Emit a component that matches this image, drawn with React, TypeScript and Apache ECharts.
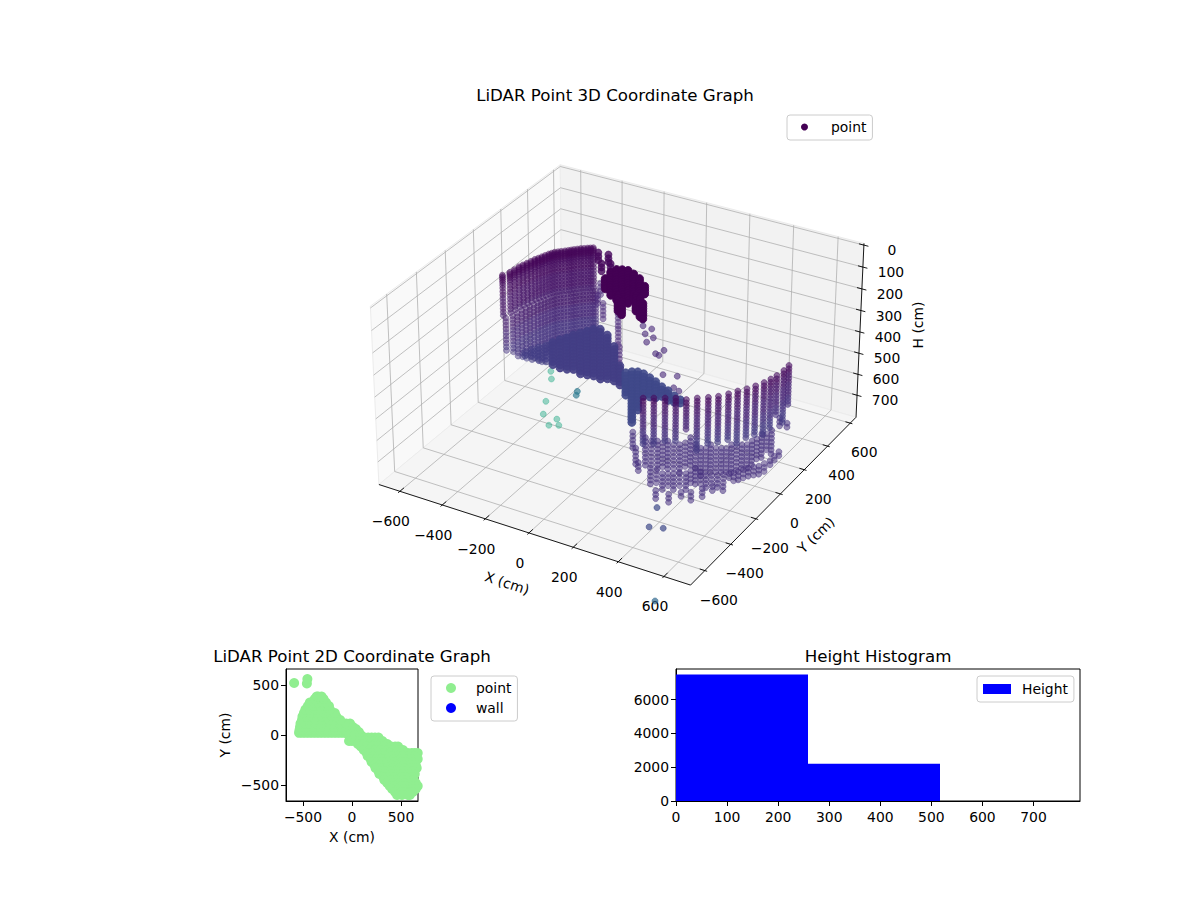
import React, { useEffect, useRef } from "react";
import * as echarts from "echarts";

// ---------- chart text ----------
const FONT = "DejaVu Sans";
const xTicks3D = [-600, -400, -200, 0, 200, 400, 600];
const yTicks3D = [-600, -400, -200, 0, 200, 400, 600];
const hTicks3D = [0, 100, 200, 300, 400, 500, 600, 700];
const xLim = [-700, 715];
const yLim = [-708, 652];
const hLim = [-8, 806];

// ---------- 3D scan data, cm: stacks are [x, y, top height, bottom height] ----------
const wallRingsUpper = [0, 7, 15, 24, 34, 46, 60, 76, 92, 108, 124, 140, 156, 172, 188];
const wallRingsLower = [0, 17, 34, 51, 68, 85, 102, 119, 136, 153, 170, 187, 204, 221, 238, 255, 272, 289, 306];
const rightRings = [0, 15, 30, 45, 60, 75, 90, 105, 120, 135, 150, 165, 180, 195, 210, 225, 240];
const fanRings = [0, 15, 30, 45, 60, 75, 90, 105, 120, 135, 150, 165, 180, 195, 210, 225, 240, 255];
const strandRings = [0, 18, 36, 54, 72, 90, 108, 126];
const blobRings = [0, 12, 24, 36, 48, 60, 72, 84, 96, 108, 120, 132, 144, 156, 168];

const wallUpper = [
  [-606, 60, 206, 400], [-589, 88, 202, 400], [-585, 116, 202, 400], [-582, 145, 202, 400],
  [-576, 166, 202, 400], [-570, 187, 202, 400], [-564, 208, 202, 400], [-559, 229, 202, 400],
  [-552, 245, 202, 400], [-546, 262, 202, 400], [-540, 278, 202, 400], [-534, 295, 202, 400],
  [-527, 307, 202, 400], [-521, 320, 202, 400], [-511, 330, 202, 400], [-501, 339, 202, 400],
  [-490, 350, 202, 400], [-480, 360, 202, 400], [-472, 369, 202, 400], [-464, 378, 202, 400],
  [-454, 388, 202, 400], [-444, 398, 202, 400], [-433, 406, 202, 400], [-422, 415, 202, 400],
  [-412, 422, 202, 400], [-403, 429, 202, 400],
];
const wallLower = [
  [-597, 64, 406, 575], [-582, 92, 406, 589], [-578, 120, 406, 610], [-575, 149, 406, 631],
  [-569, 170, 406, 645], [-563, 191, 406, 659], [-557, 212, 406, 673], [-552, 233, 406, 687],
  [-545, 249, 406, 698], [-539, 266, 406, 710], [-533, 282, 406, 672], [-527, 299, 406, 635],
  [-520, 311, 406, 632], [-514, 324, 406, 629], [-504, 334, 406, 625], [-494, 343, 406, 621],
  [-483, 354, 406, 619], [-473, 364, 406, 617], [-465, 373, 406, 614], [-457, 382, 406, 612],
  [-447, 392, 406, 609], [-437, 402, 406, 607], [-426, 410, 406, 602], [-415, 419, 406, 598],
  [-405, 426, 406, 595], [-396, 433, 406, 593],
];
const fanFaintStacks = [
  [-479, 21, 512, 540], [-467, 54, 512, 563], [-451, 80, 512, 582], [-434, 107, 512, 601],
];
const fanStacks = [
  [-423, 141, 512, 624], [-410, 175, 512, 647], [-393, 201, 512, 666], [-382, 234, 512, 689],
  [-365, 260, 512, 708], [-349, 287, 512, 726], [-334, 314, 512, 745], [-310, 328, 512, 754],
  [-260, 301, 512, 736], [-188, 236, 512, 689], [-88, 115, 512, 605],
];
const midFanStacks = [
  [-39, 80, 512, 619], [-22, 99, 512, 764], [-1, 110, 512, 698], [27, 108, 512, 628],
  [64, 94, 512, 612], [100, 79, 512, 589], [141, 57, 512, 568], [178, 43, 512, 559],
  [219, 21, 512, 545], [255, 7, 512, 535],
];
const rightWall = [
  [244, -263, 362, 580], [280, -243, 362, 580], [318, -222, 362, 564], [354, -202, 362, 564],
  [395, -192, 362, 509], [426, -162, 362, 610], [461, -137, 362, 582], [491, -111, 362, 572],
  [516, -76, 362, 582], [537, -41, 362, 610], [560, -9, 362, 590], [579, 26, 362, 595],
  [596, 64, 362, 610], [606, 100, 362, 587], [614, 134, 362, 548], [620, 181, 362, 610],
  [619, 225, 362, 556],
];
const floorStrands = [
  [214, -290, 512, 600], [283, -384, 512, 600], [344, -467, 512, 559],
  [309, -355, 472, 600], [404, -478, 512, 600], [500, -602, 512, 559],
  [362, -354, 472, 600], [463, -489, 512, 600], [555, -600, 512, 551],
  [397, -335, 472, 600], [500, -469, 512, 600], [589, -566, 512, 543],
  [449, -335, 472, 600], [541, -446, 512, 600], [621, -548, 512, 551],
  [460, -270, 472, 600], [553, -395, 512, 600], [646, -506, 512, 559],
  [532, -318, 472, 600], [614, -421, 512, 570], [672, -475, 512, 535],
  [553, -278, 472, 600], [651, -399, 512, 570], [707, -456, 512, 535],
  [601, -280, 472, 590], [684, -367, 512, 543],
  [622, -239, 472, 600], [708, -339, 512, 559],
  [657, -220, 472, 590], [729, -298, 512, 559],
  [678, -178, 472, 590], [757, -267, 512, 559],
  [686, -115, 472, 590], [776, -212, 512, 543],
  [707, -74, 472, 580], [775, -140, 512, 535],
  [662, 77, 512, 559], [705, 57, 512, 535],
];
const floorStrandsBetween = [
  [335, -355, 480, 600], [380, -345, 480, 600], [423, -335, 480, 600], [455, -302, 480, 600],
  [496, -294, 480, 600], [543, -298, 480, 600], [577, -279, 480, 600], [612, -260, 480, 590],
  [640, -230, 480, 590], [668, -199, 480, 590], [682, -146, 480, 580], [697, -95, 480, 560],
  [433, -483, 512, 575], [482, -479, 512, 575], [520, -458, 512, 570], [547, -420, 512, 570],
  [584, -408, 512, 570], [632, -410, 512, 555], [668, -383, 512, 555], [696, -353, 512, 550],
  [718, -318, 512, 555], [743, -282, 512, 555], [766, -240, 512, 550], [775, -176, 512, 540],
];
const darkBlob = [
  [-328, 398, 312, 366], [-335, 453, 312, 421], [-327, 486, 312, 460], [-306, 497, 312, 475],
  [-282, 503, 312, 470], [-246, 488, 312, 436], [-205, 466, 312, 397], [-154, 421, 312, 351],
  [-209, 302, 312, 390], [-170, 265, 312, 374], [-145, 337, 312, 390], [-118, 323, 312, 397],
  [-88, 295, 312, 390],
];
const darkStrands = [
  [-469, 575, 312, 362], [-408, 500, 312, 351], [-423, 580, 312, 359], [-375, 518, 312, 351],
];
const lightStrands = [
  [-325, 356, 312, 374], [-281, 262, 312, 351], [-229, 218, 312, 390],
  [-162, 225, 312, 410], [-69, 71, 312, 397], [8, -48, 312, 410],
];
const scatteredPoints = [
  [4, 141, 312], [47, 136, 312], [44, 90, 312], [88, 79, 312], [82, 37, 312], [158, -23, 312],
  [174, 15, 312], [176, -28, 312], [264, -147, 312], [318, -130, 312], [333, -244, 312],
  [349, -211, 312], [379, -223, 312],
];
const tealPoints = [
  [-487, 225, 712], [-452, 174, 712], [-378, 14, 712], [-334, -75, 712],
  [-266, -81, 712], [-269, -136, 712], [-234, -117, 712],
];
const deepTealPoints = [[-307, 142, 712], [-295, 114, 712]];
const lowPoints = [[438, -485, 677], [481, -617, 674], [535, -604, 670]];
const lowestPoints = [[729, -995, 695]];

// ---------- colour bins: [height limit, colour] ----------
const wallBins: [number, string][] = [
  [240, "#46075a"], [300, "#470f62"], [380, "#481769"], [460, "#48206f"],
  [540, "#472a7a"], [620, "#463480"], [999, "#433d84"],
];
const rightBins: [number, string][] = [
  [400, "#470e61"], [450, "#481a6c"], [500, "#482576"], [550, "#46307e"], [999, "#443a83"],
];

// ---------- 2D footprint: rows of [y, x, x, ...], cm ----------
const footprintRows = [
  [22, -540, -505, -470, -435, -400, -365, -330, -295, -260, -225, -190, -155, -120, -85, -60],
  [50, -535, -495, -455, -415, -375, -335, -295, -255, -215, -175, -135, -95, -70],
  [80, -530, -460, -390, -320, -250, -180, -110, -40],
  [115, -525, -475, -425, -375, -325, -275, -225, -175, -125, -60, -20],
  [150, -510, -440, -370, -300, -230, -160, -120],
  [185, -505, -455, -405, -355, -305, -255, -205, -160],
  [220, -490, -420, -350, -280, -210, -175],
  [255, -475, -425, -375, -325, -275, -225],
  [290, -450, -390, -320, -260, -235],
  [325, -430, -385, -340, -295, -265],
  [360, -380, -320, -290],
  [385, -360, -345, -310],
  [80, 10], [60, 40], [30, 70], [0, -30, 30, 90], [-60, -30, 0, 40],
  [-25, 100, 130, 165, 200, 235, 270],
  [-60, 80, 130, 180, 230, 280, 310],
  [-90, 60, 120, 180, 240, 300, 360],
  [-115, 90, 150, 210, 270, 330, 400, 440, 470],
  [-150, 120, 180, 240, 300, 360, 420, 480, 520],
  [-180, 150, 210, 270, 330, 390, 450, 510, 570, 610, 640, 670],
  [-210, 160, 220, 280, 340, 400, 460, 520, 580, 640, 690],
  [-240, 190, 250, 310, 370, 430, 490, 550, 610, 670],
  [-270, 200, 260, 320, 380, 440, 500, 560, 620, 680],
  [-300, 230, 290, 350, 410, 470, 530, 590, 650],
  [-330, 240, 300, 360, 420, 480, 540, 600, 660],
  [-360, 270, 330, 390, 450, 510, 570, 630, 690],
  [-390, 280, 340, 400, 460, 520, 580, 640, 700],
  [-420, 320, 380, 440, 500, 560, 620, 680],
  [-450, 330, 390, 450, 510, 570, 630, 690],
  [-480, 360, 420, 480, 540, 600, 650, 680],
  [-510, 385, 440, 500, 560, 620, 640, 670],
  [-540, 410, 470, 530, 590, 620, 650],
  [-570, 440, 500, 560, 600, 620],
  [-600, 460, 510, 570, 590],
  [520, -590], [515, -460], [560, -455],
];

// ---------- histogram ----------
const histEdges = [0, 258, 516, 774];
const histCounts = [7480, 2210, 0];

// ---------- 3D projection (perspective camera, elevation 30, azimuth -60) ----------
const BOX_A = 0.595, BOX_B = 0.595, BOX_C = 0.34, CAM = 10;
const SCALE_X = 2984, SCALE_Y = 2990, CENTER_X = 621.9, CENTER_Y = 363.7;
function project(x: number, y: number, h: number): [number, number] {
  const px = ((x - (xLim[0] + xLim[1]) / 2) / ((xLim[1] - xLim[0]) / 2)) * BOX_A;
  const py = ((y - (yLim[0] + yLim[1]) / 2) / ((yLim[1] - yLim[0]) / 2)) * BOX_B;
  const pz = (((hLim[0] + hLim[1]) / 2 - h) / ((hLim[1] - hLim[0]) / 2)) * BOX_C;
  const xv = 0.866 * px + 0.5 * py;
  const yv = -0.25 * px + 0.433 * py + 0.866 * pz;
  const zv = 0.433 * px - 0.75 * py + 0.5 * pz;
  const d = CAM - zv;
  return [CENTER_X + (xv / d) * SCALE_X, CENTER_Y - (yv / d) * SCALE_Y];
}

function rgba(hex: string, a: number) {
  const n = parseInt(hex.slice(1), 16);
  return `rgba(${n >> 16},${(n >> 8) & 255},${n & 255},${a})`;
}
function binColor(bins: [number, string][], h: number) {
  for (const b of bins) if (h <= b[0]) return b[1];
  return bins[bins.length - 1][1];
}
function fromStacks(stacks: number[][], rings: number[]) {
  const out: number[][] = [];
  for (const s of stacks) {
    for (const r of rings) {
      if (s[2] + r <= s[3]) out.push([s[0], s[1], s[2] + r]);
    }
  }
  return out;
}
function series3D(pts: number[][], color: string | [number, string][], alpha: number, size: number) {
  return {
    type: "scatter",
    name: "point",
    xAxisIndex: 0,
    yAxisIndex: 0,
    symbolSize: size,
    clip: false,
    progressive: 0,
    silent: true,
    data: pts.map((p) => {
      const c = typeof color === "string" ? color : binColor(color, p[2]);
      return {
        value: project(p[0], p[1], p[2]),
        itemStyle: { opacity: 1, color: rgba(c, alpha), borderColor: rgba(c, alpha), borderWidth: 0.8 },
      };
    }),
  };
}

function poly(points: number[][], stroke: string, width: number, z = 0) {
  return { type: "polyline", silent: true, z, shape: { points }, style: { stroke, lineWidth: width, fill: "none" } };
}
function txt(text: string, x: number, y: number, rotation = 0) {
  return {
    type: "text", silent: true, x, y, rotation, z: 1,
    style: { text, fill: "#000", fontSize: 13.9, fontFamily: FONT, textAlign: "center", textVerticalAlign: "middle" },
  };
}
const minus = (v: number) => String(v).replace("-", "\u2212");

function frameGraphics() {
  const [x0, x1] = xLim, [y0, y1] = yLim, [h0, h1] = hLim;
  const P = project;
  const pane = (pts: number[][], fill: string) => ({
    type: "polygon", silent: true, z: 0, shape: { points: pts },
    style: { fill, stroke: "#ececec", lineWidth: 1 },
  });
  const g: any[] = [
    pane([P(x0, y0, h1), P(x0, y1, h1), P(x0, y1, h0), P(x0, y0, h0)], "#f9f9f9"),
    pane([P(x0, y1, h1), P(x1, y1, h1), P(x1, y1, h0), P(x0, y1, h0)], "#f2f2f2"),
    pane([P(x0, y0, h1), P(x1, y0, h1), P(x1, y1, h1), P(x0, y1, h1)], "#f5f5f5"),
  ];
  const GRID = "#b0b0b0";
  for (const t of xTicks3D) g.push(poly([P(t, y0, h1), P(t, y1, h1), P(t, y1, h0)], GRID, 0.8, 1));
  for (const t of yTicks3D) g.push(poly([P(x1, t, h1), P(x0, t, h1), P(x0, t, h0)], GRID, 0.8, 1));
  for (const t of hTicks3D) g.push(poly([P(x0, y0, t), P(x0, y1, t), P(x1, y1, t)], GRID, 0.8, 1));
  g.push(poly([P(x0, y0, h1), P(x1, y0, h1), P(x1, y1, h1), P(x1, y1, h0)], "#000", 0.9, 1));
  for (const t of xTicks3D) {
    g.push(poly([P(t, y0 - 12, h1), P(t, y0 + 28, h1)], "#000", 0.9, 1));
    const a = P(t, y0, h1);
    g.push(txt(minus(t), a[0] - 9, a[1] + 30));
  }
  for (const t of yTicks3D) {
    g.push(poly([P(x1 - 22, t, h1), P(x1 + 10, t, h1)], "#000", 0.9, 1));
    const a = P(x1, t, h1);
    g.push(txt(minus(t), a[0] + 14, a[1] + 29));
  }
  for (const t of hTicks3D) {
    g.push(poly([P(x1 - 22, y1, t), P(x1 + 20, y1, t)], "#000", 0.9, 1));
    const a = P(x1, y1, t);
    g.push(txt(minus(t), a[0] + 28, a[1] + 5));
  }
  g.push(txt("X (cm)", 507, 583, (-18 * Math.PI) / 180));
  g.push(txt("Y (cm)", 816, 535, (44 * Math.PI) / 180));
  g.push(txt("H (cm)", 918, 325, Math.PI / 2));
  return g;
}

const footprintPoints: number[][] = [];
for (const row of footprintRows) for (const x of row.slice(1)) footprintPoints.push([x, row[0]]);

const tickText = { color: "#000", fontSize: 13.9, fontFamily: FONT };
const axisBase = {
  axisLine: { show: true, onZero: false, lineStyle: { color: "#000", width: 1 } },
  splitLine: { show: false },
  nameLocation: "middle",
  nameTextStyle: tickText,
};
function valueAxis(gridIndex: number, min: number, max: number, ticks: number[], name: string, nameGap: number, margin: number) {
  return {
    ...axisBase,
    type: "value", gridIndex, min, max, name, nameGap,
    axisTick: { show: true, inside: false, length: 5, lineStyle: { color: "#000", width: 1 }, customValues: ticks },
    axisLabel: { ...tickText, margin, customValues: ticks, formatter: (v: number) => minus(v) },
  };
}

const legendBox = {
  orient: "vertical",
  backgroundColor: "rgba(255,255,255,0.8)",
  borderColor: "#cccccc",
  borderWidth: 1,
  borderRadius: 3,
  selectedMode: false,
};
const titleText = { fontSize: 16.67, fontWeight: "normal", color: "#000", fontFamily: FONT };

export default function App() {
  const ref = useRef<HTMLDivElement>(null);
  useEffect(() => {
    document.body.style.margin = "0";
    const chart = echarts.init(ref.current!, undefined, { renderer: "svg" });
    chart.setOption({
      animation: false,
      backgroundColor: "#ffffff",
      textStyle: { fontFamily: FONT },
      title: [
        { text: "LiDAR Point 3D Coordinate Graph", left: 610, top: 82, textAlign: "center", textStyle: titleText },
        { text: "LiDAR Point 2D Coordinate Graph", left: 347, top: 643, textAlign: "center", textStyle: titleText },
        { text: "Height Histogram", left: 873, top: 643, textAlign: "center", textStyle: titleText },
      ],
      grid: [
        { left: 0, top: 0, width: 1200, height: 900, show: false },
        { left: 286, top: 669, width: 132, height: 132, show: true, borderColor: "#000", borderWidth: 1, backgroundColor: "transparent" },
        { left: 676, top: 669, width: 404, height: 132, show: true, borderColor: "#000", borderWidth: 1, backgroundColor: "transparent" },
      ],
      xAxis: [
        { type: "value", gridIndex: 0, min: 0, max: 1200, show: false },
        valueAxis(1, -673, 673, [-500, 0, 500], "X (cm)", 29, 9),
        valueAxis(2, 0, 791, [0, 100, 200, 300, 400, 500, 600, 700], "", 0, 9),
      ],
      yAxis: [
        { type: "value", gridIndex: 0, min: 0, max: 900, inverse: true, show: false },
        valueAxis(1, -660, 660, [-500, 0, 500], "Y (cm)", 54, 7),
        valueAxis(2, 0, 7810, [0, 2000, 4000, 6000], "", 0, 7),
      ],
      legend: [
        { ...legendBox, left: 787, top: 115, padding: [5, 6, 6, 14], itemWidth: 7, itemHeight: 7,
          data: [{ name: "point", icon: "circle", itemStyle: { color: "#440154", opacity: 1 } }],
          textStyle: { ...tickText, padding: [0, 0, 0, 18] } },
        { ...legendBox, left: 431, top: 676, padding: [5, 6, 6, 15], itemWidth: 10, itemHeight: 10, itemGap: 6,
          data: [
            { name: "point", icon: "circle", itemStyle: { color: "#90ee90", opacity: 1 } },
            { name: "wall", icon: "circle", itemStyle: { color: "#0000ff", opacity: 1 } },
          ],
          textStyle: { ...tickText, padding: [0, 0, 0, 15] } },
        { ...legendBox, left: 977, top: 676, padding: [6, 6, 6, 6], itemWidth: 28, itemHeight: 10,
          data: [{ name: "Height", icon: "rect", itemStyle: { color: "#0000ff", opacity: 1 } }],
          textStyle: { ...tickText, padding: [0, 0, 0, 6] } },
      ],
      graphic: { elements: frameGraphics() },
      series: [
        series3D(tealPoints, "#22a884", 0.45, 6),
        series3D(deepTealPoints, "#2a788e", 0.65, 6),
        series3D(fromStacks(wallUpper, wallRingsUpper), wallBins, 0.5, 6),
        series3D(fromStacks(wallLower, wallRingsLower), wallBins, 0.48, 6),
        series3D(fromStacks(lightStrands, strandRings), "#4b2a7b", 0.5, 6),
        series3D(fromStacks(darkStrands, strandRings), "#46085c", 0.8, 7),
        series3D(fromStacks(darkBlob, blobRings), "#440154", 1, 8),
        series3D(scatteredPoints, "#482878", 0.6, 6),
        series3D(fromStacks(fanFaintStacks, fanRings), "#433e85", 0.55, 7),
        series3D(fromStacks(fanStacks, fanRings), "#433e85", 0.9, 8),
        series3D(fromStacks(midFanStacks, fanRings), "#3f4889", 0.9, 8),
        series3D(fromStacks(floorStrands, strandRings), "#46307e", 0.55, 6),
        series3D(fromStacks(floorStrandsBetween, strandRings), "#46307e", 0.5, 6),
        series3D(fromStacks(rightWall, rightRings), rightBins, 0.6, 6),
        series3D(lowPoints, "#3f4a89", 0.7, 6),
        series3D(lowestPoints, "#31688e", 0.7, 6),
        {
          type: "scatter", name: "point", xAxisIndex: 1, yAxisIndex: 1, symbolSize: 10, clip: true, progressive: 0, silent: true,
          itemStyle: { color: "#90ee90", opacity: 1 },
          data: footprintPoints,
        },
        {
          type: "scatter", name: "wall", xAxisIndex: 1, yAxisIndex: 1, symbolSize: 10, clip: true,
          itemStyle: { color: "#0000ff", opacity: 1 }, data: [],
        },
        {
          type: "custom", name: "Height", xAxisIndex: 2, yAxisIndex: 2, silent: true,
          itemStyle: { color: "#0000ff", opacity: 1 },
          data: histCounts.map((c, i) => [histEdges[i], histEdges[i + 1], c]),
          encode: { x: [0, 1], y: 2 },
          renderItem: (_p: any, api: any) => {
            const a = api.coord([api.value(0), api.value(2)]);
            const b = api.coord([api.value(1), 0]);
            const left = Math.round(a[0]), right = Math.round(b[0]);
            return { type: "rect", shape: { x: left, y: a[1], width: right - left, height: b[1] - a[1] }, style: { fill: "#0000ff" } };
          },
        },
      ],
    });
    return () => chart.dispose();
  }, []);
  return <div ref={ref} style={{ position: "absolute", left: 0, top: 0, width: 1200, height: 900 }} />;
}
